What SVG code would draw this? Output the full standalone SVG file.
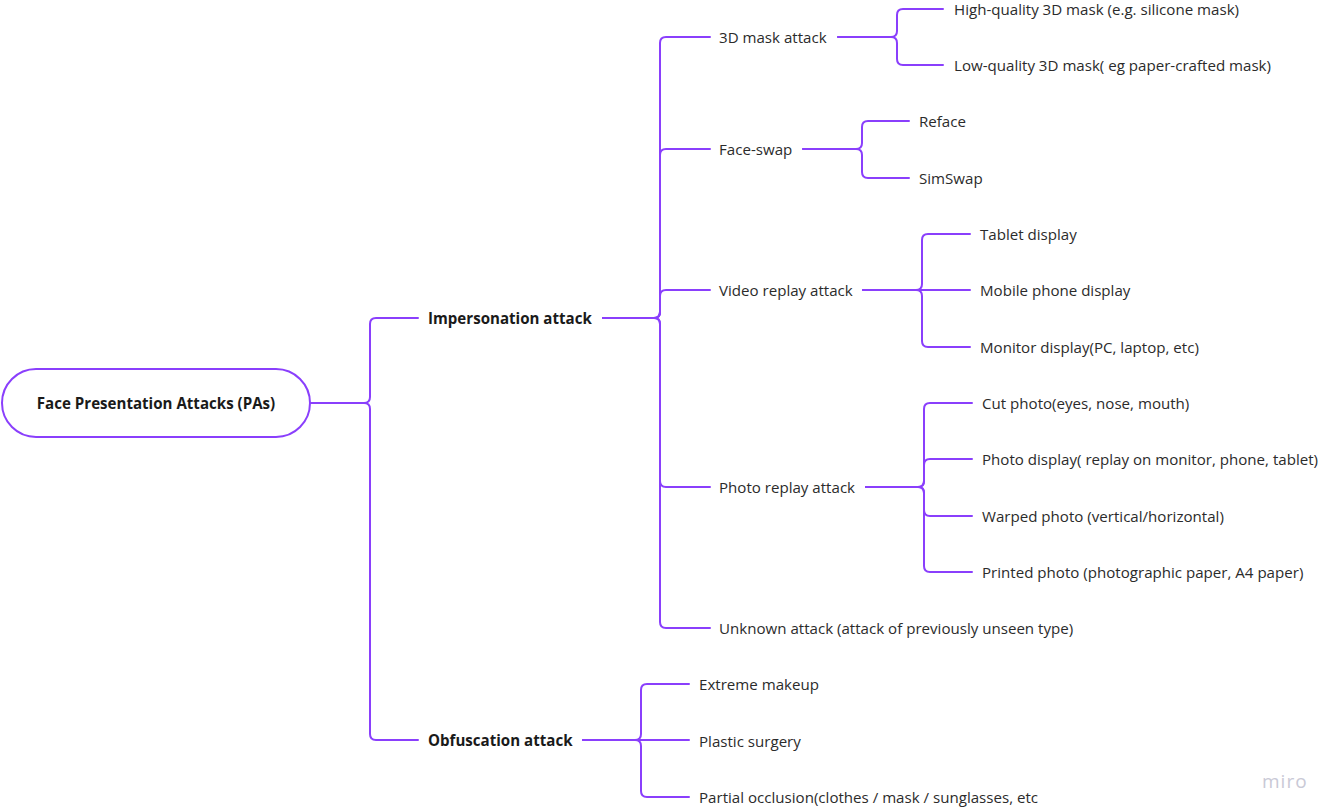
<svg xmlns="http://www.w3.org/2000/svg" width="1320" height="809" viewBox="0 0 1320 809">
<style>
.c{fill:none;stroke:#8a3ffc;stroke-width:2;stroke-linecap:round;stroke-linejoin:round}
text{font-family:"Open Sans","Noto Sans","Liberation Sans",sans-serif;font-size:15.1px;fill:#2b2b2b}
.b{font-weight:700;fill:#1a1a1a}
.m{font-size:19px;fill:#c9c9d6;letter-spacing:1px}
</style>
<rect width="1320" height="809" fill="#ffffff"/>
<g id="connectors" class="c">
<path d="M310,403 H364 Q370,403 370,397 V324 Q370,318 376,318 H418"/>
<path d="M310,403 H364 Q370,403 370,409 V734 Q370,740 376,740 H418"/>
<path d="M603,318 H654 Q660,318 660,312 V43 Q660,37 666,37 H710"/>
<path d="M603,318 H654 Q660,318 660,312 V155 Q660,149 666,149 H710"/>
<path d="M603,318 H654 Q660,318 660,312 V296 Q660,290 666,290 H710"/>
<path d="M603,318 H654 Q660,318 660,324 V481 Q660,487 666,487 H710"/>
<path d="M603,318 H654 Q660,318 660,324 V622 Q660,628 666,628 H710"/>
<path d="M838,37 H891 Q897,37 897,31 V15 Q897,9 903,9 H943"/>
<path d="M838,37 H891 Q897,37 897,43 V59 Q897,65 903,65 H943"/>
<path d="M803,149 H856 Q862,149 862,143 V127 Q862,121 868,121 H909"/>
<path d="M803,149 H856 Q862,149 862,155 V172 Q862,178 868,178 H909"/>
<path d="M863,290 H916 Q922,290 922,284 V240 Q922,234 928,234 H970"/>
<path d="M863,290 H970"/>
<path d="M863,290 H916 Q922,290 922,296 V341 Q922,347 928,347 H970"/>
<path d="M866,487 H918 Q924,487 924,481 V409 Q924,403 930,403 H972"/>
<path d="M866,487 H918 Q924,487 924,481 V465 Q924,459 930,459 H972"/>
<path d="M866,487 H918 Q924,487 924,493 V510 Q924,516 930,516 H972"/>
<path d="M866,487 H918 Q924,487 924,493 V566 Q924,572 930,572 H972"/>
<path d="M583,740 H635 Q641,740 641,734 V690 Q641,684 647,684 H689"/>
<path d="M583,740 H689"/>
<path d="M583,740 H635 Q641,740 641,746 V791 Q641,797 647,797 H689"/>
</g>
<g id="root">
<rect x="2" y="369" width="308" height="68" rx="34" fill="#ffffff" stroke="#8a3ffc" stroke-width="2"/>
<text class="b" x="156" y="409" text-anchor="middle">Face Presentation Attacks (PAs)</text>
</g>
<g id="impersonation"><text class="b" x="428" y="324">Impersonation attack</text></g>
<g id="obfuscation"><text class="b" x="428" y="746">Obfuscation attack</text></g>
<g id="mask3d"><text x="719" y="43">3D mask attack</text></g>
<g id="faceswap"><text x="719" y="155">Face-swap</text></g>
<g id="videoreplay"><text x="719" y="296">Video replay attack</text></g>
<g id="photoreplay"><text x="719" y="493">Photo replay attack</text></g>
<g id="unknown"><text x="719" y="634">Unknown attack (attack of previously unseen type)</text></g>
<g id="hq-mask"><text x="954" y="15">High-quality 3D mask (e.g. silicone mask)</text></g>
<g id="lq-mask"><text x="954" y="71">Low-quality 3D mask( eg paper-crafted mask)</text></g>
<g id="reface"><text x="919" y="127">Reface</text></g>
<g id="simswap"><text x="919" y="184">SimSwap</text></g>
<g id="tablet"><text x="980" y="240">Tablet display</text></g>
<g id="mobile"><text x="980" y="296">Mobile phone display</text></g>
<g id="monitor"><text x="980" y="353">Monitor display(PC, laptop, etc)</text></g>
<g id="cut-photo"><text x="982" y="409">Cut photo(eyes, nose, mouth)</text></g>
<g id="photo-display"><text x="982" y="465">Photo display( replay on monitor, phone, tablet)</text></g>
<g id="warped-photo"><text x="982" y="522">Warped photo (vertical/horizontal)</text></g>
<g id="printed-photo"><text x="982" y="578">Printed photo (photographic paper, A4 paper)</text></g>
<g id="makeup"><text x="699" y="690">Extreme makeup</text></g>
<g id="surgery"><text x="699" y="747">Plastic surgery</text></g>
<g id="occlusion"><text x="699" y="803">Partial occlusion(clothes / mask / sunglasses, etc</text></g>
<text class="m" x="1262" y="788">miro</text>
</svg>
